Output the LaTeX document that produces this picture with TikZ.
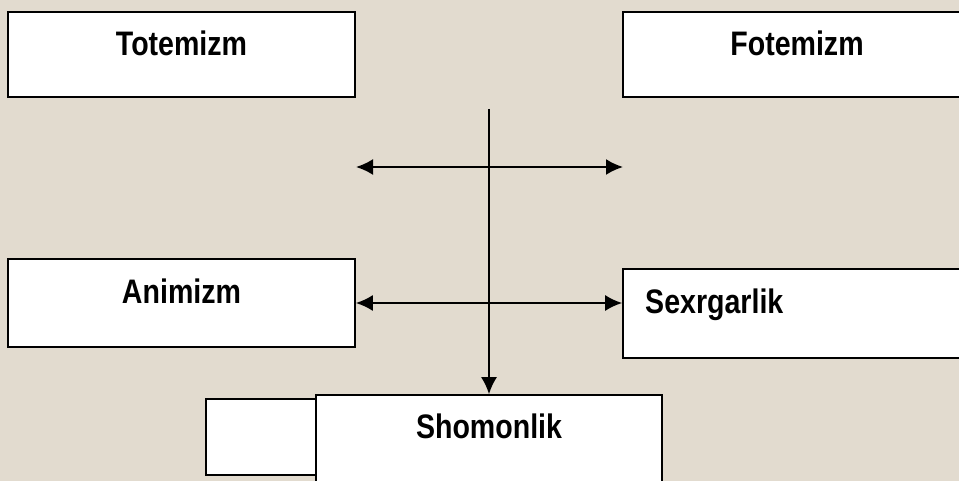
\documentclass[tikz,border=0pt]{standalone}
\usepackage{fontspec}
\setmainfont{Liberation Sans}[FakeStretch=0.84]
\usetikzlibrary{arrows.meta}
\definecolor{paper}{RGB}{226,219,207}
\begin{document}
\begin{tikzpicture}[x=1pt, y=-1pt,
		box/.style={rectangle, fill=white, draw, line width=1.6pt, inner sep=0pt},
		lbl/.style={anchor=base, inner sep=0pt, font=\fontsize{34}{40}\selectfont\bfseries},
		link/.style={line width=2pt, -{Latex[length=17pt, width=16pt]}},
		both/.style={line width=2pt, {Latex[length=17pt, width=16pt]}-{Latex[length=17pt, width=16pt]}}]
	\fill[paper] (0,0) rectangle (959,481);
	\clip (0,0) rectangle (959,481);
	%Nodes:
	\node[box, minimum width=347pt, minimum height=85pt] (totem) at (181.5,54.5) {};
	\node[box, minimum width=348pt, minimum height=85pt] (fotem) at (797,54.5) {};
	\node[box, minimum width=347pt, minimum height=88pt] (anim) at (181.5,303) {};
	\node[box, minimum width=348pt, minimum height=89pt] (sexr) at (797,313.5) {};
	\node[box, minimum width=200pt, minimum height=76pt] (back) at (306,437) {};
	\node[box, minimum width=346pt, minimum height=100pt] (shom) at (489,445) {};
	\node[lbl] (totemtxt) at (181.5,56) {Totemizm};
	\node[lbl] (fotemtxt) at (797,56) {Fotemizm};
	\node[lbl] (animtxt) at (181.5,303) {Animizm};
	\node[lbl, anchor=base west] (sexrtxt) at (645,313) {Sexrgarlik};
	\node[lbl] (shomtxt) at (489,438) {Shomonlik};
	\coordinate (top) at (489,109);
	\coordinate (upl) at (356,167);
	\coordinate (upr) at (623,167);
	%Edges:
	\draw[link] (top) -- (shom.north);
	\draw[both] (upl) -- (upr);
	\draw[both] (anim.east) -- (anim.east -| sexr.west);
\end{tikzpicture}
\end{document}
